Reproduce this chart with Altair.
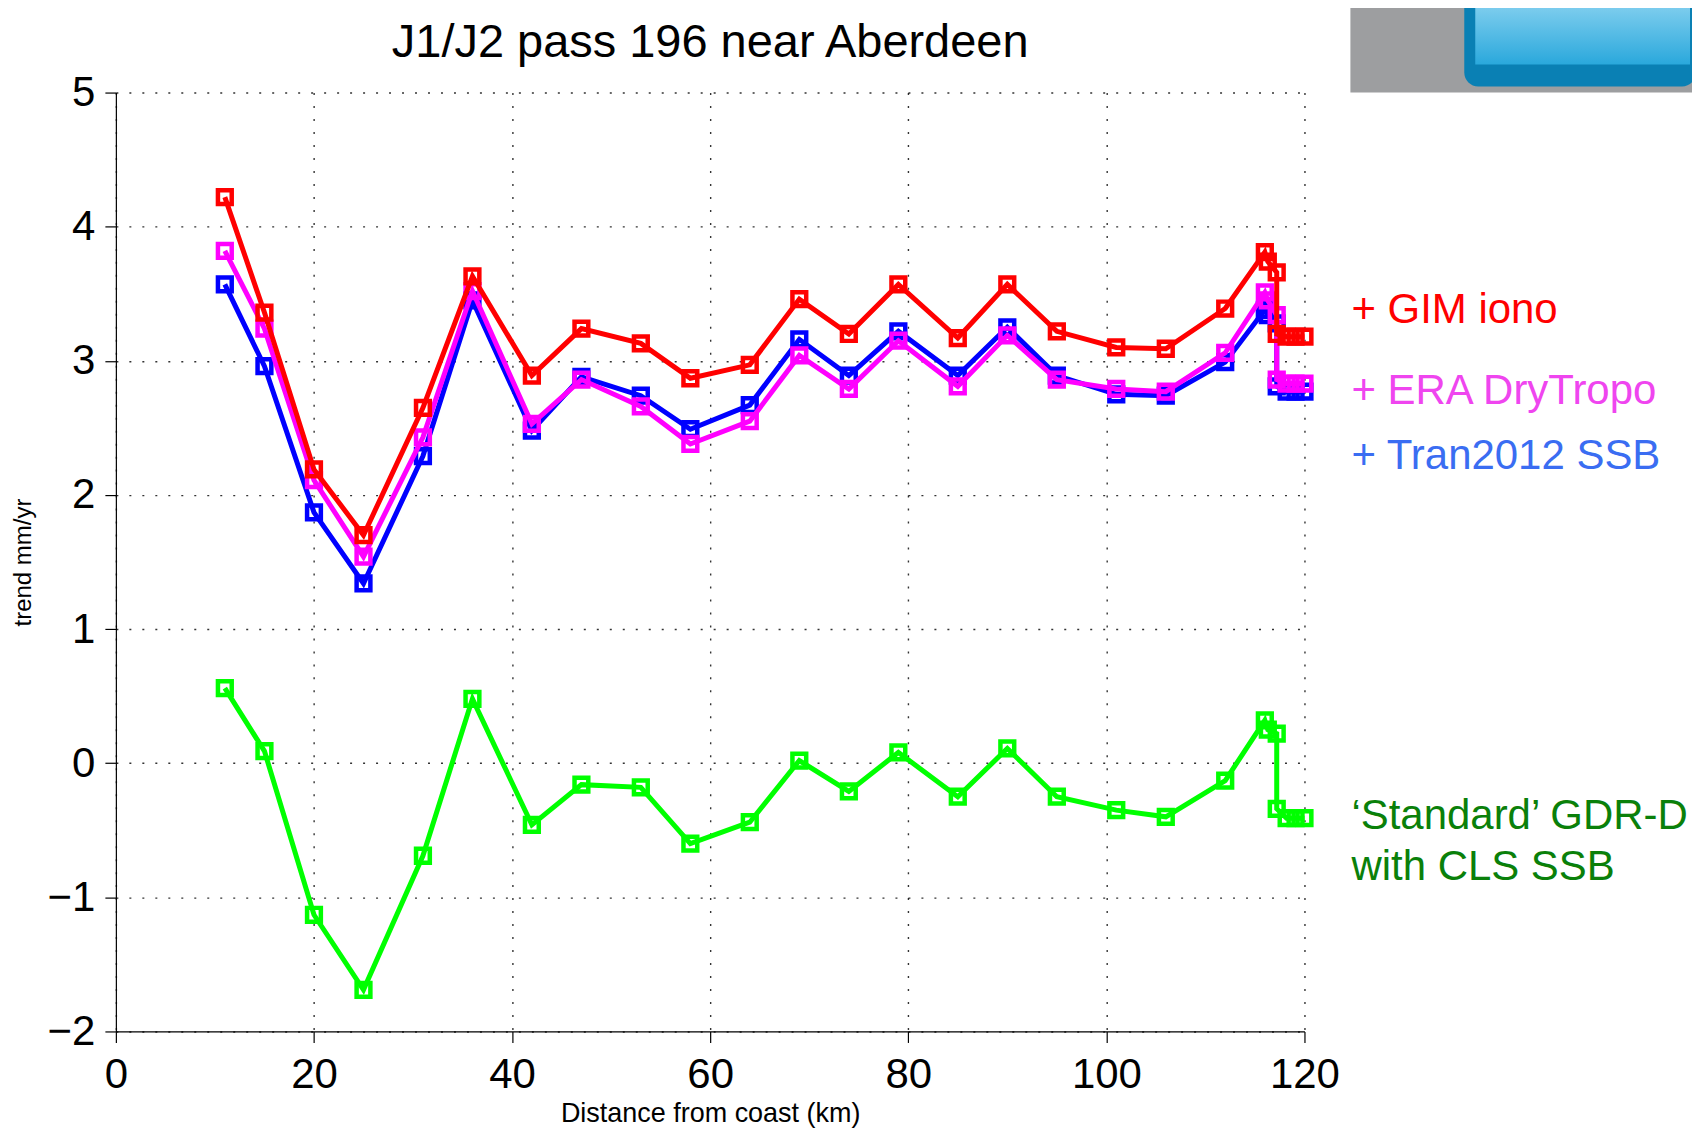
import altair as alt
import pandas as pd

# ---- data ----
dist_km = [11, 15, 20, 25, 31, 36, 42, 47, 53, 58, 64, 69, 74, 79, 85, 90, 95,
           101, 106, 112, 116.0, 116.3, 117.2, 117.2, 118.2, 119.1, 120.0]
gim_iono = [4.22, 3.36, 2.19, 1.70, 2.65, 3.63, 2.89, 3.24, 3.13, 2.87, 2.97, 3.46,
            3.20, 3.57, 3.17, 3.57, 3.22, 3.10, 3.09, 3.39, 3.81, 3.74, 3.66, 3.20,
            3.18, 3.18, 3.18]
era_drytropo = [3.82, 3.24, 2.11, 1.54, 2.43, 3.52, 2.53, 2.86, 2.66, 2.38, 2.55, 3.04,
                2.79, 3.15, 2.81, 3.19, 2.86, 2.79, 2.77, 3.06, 3.51, 3.45, 3.34, 2.86,
                2.83, 2.83, 2.83]
tran_ssb = [3.57, 2.96, 1.87, 1.34, 2.29, 3.45, 2.48, 2.88, 2.74, 2.49, 2.67, 3.16,
            2.89, 3.22, 2.89, 3.25, 2.89, 2.75, 2.74, 2.99, 3.38, 3.34, 3.28, 2.81,
            2.77, 2.77, 2.77]
gdr_standard = [0.56, 0.09, -1.13, -1.69, -0.69, 0.48, -0.46, -0.16, -0.18, -0.60, -0.44,
                0.02, -0.21, 0.08, -0.25, 0.11, -0.25, -0.35, -0.40, -0.13, 0.32, 0.25,
                0.22, -0.34, -0.41, -0.41, -0.41]

x_ticks = [0, 20, 40, 60, 80, 100, 120]
y_ticks = [-2, -1, 0, 1, 2, 3, 4, 5]

title_text = "J1/J2 pass 196 near Aberdeen"
x_title = "Distance from coast (km)"
y_title = "trend mm/yr"

W, H = 1190, 940
FONT = "Liberation Sans"

x_scale = alt.Scale(domain=[0, 120], nice=False, zero=False)
y_scale = alt.Scale(domain=[-2, 5], nice=False, zero=False)

common_axis = dict(
    grid=True, gridDash=[2, 11], gridColor="#000000", gridOpacity=0.8,
    gridWidth=1.4, domainColor="#000000", domainWidth=1.2, tickColor="#000000",
    tickSize=11, tickWidth=1.2, labelFont=FONT, labelFontSize=42,
    labelColor="#000000", labelFlush=False, format="d", titleFont=FONT,
    titleFontWeight="normal", titleColor="#000000",
)


def series_df(values):
    return pd.DataFrame({"i": range(len(values)), "x": dist_km, "y": values})


def series_layer(values, color, with_axes=False):
    if with_axes:
        xenc = alt.X("x:Q", scale=x_scale, axis=alt.Axis(
            values=x_ticks, title=x_title, labelPadding=12, titleFontSize=27,
            titleY=82, titleBaseline="middle", **common_axis))
        yenc = alt.Y("y:Q", scale=y_scale, axis=alt.Axis(
            values=y_ticks, title=y_title, labelPadding=10, titleFontSize=24,
            titleX=-92, titleY=H / 2, titleAngle=-90, titleBaseline="middle",
            titleAlign="center", **common_axis))
    else:
        xenc = alt.X("x:Q", scale=x_scale)
        yenc = alt.Y("y:Q", scale=y_scale)
    return alt.Chart(series_df(values)).mark_line(
        color=color, strokeWidth=5,
        point=alt.OverlayMarkDef(shape="square", filled=False, size=190,
                                 strokeWidth=4.5, color=color, fill="white",
                                 fillOpacity=0)
    ).encode(x=xenc, y=yenc, order="i:Q")


def label(text, color, x, y, size=42, align="left"):
    return alt.Chart(pd.DataFrame({"t": [text]})).mark_text(
        font=FONT, fontSize=size, color=color, align=align, baseline="middle"
    ).encode(text="t:N", x=alt.value(x), y=alt.value(y))


# decoration: grey banner with logo (top right)
banner = alt.Chart(pd.DataFrame({"a": [0]})).mark_rect(color="#9d9ea0").encode(
    x=alt.value(1236), x2=alt.value(1590), y=alt.value(-90), y2=alt.value(0))
logo = alt.Chart(pd.DataFrame({"a": [0]})).mark_rect(
    color="#0a80b4", cornerRadius=14).encode(
    x=alt.value(1350), x2=alt.value(1582), y=alt.value(-110), y2=alt.value(-6))
logo_in = alt.Chart(pd.DataFrame({"a": [0]})).mark_rect(
    fill=alt.Gradient(gradient="linear",
                      stops=[alt.GradientStop(color="#9fdcf5", offset=0),
                             alt.GradientStop(color="#2aa8dc", offset=1)],
                      x1=0, x2=0, y1=0, y2=1)).encode(
    x=alt.value(1361), x2=alt.value(1576), y=alt.value(-110), y2=alt.value(-28))

layers = [
    series_layer(gdr_standard, "#00ff00", with_axes=True),
    series_layer(tran_ssb, "#0000ff"),
    series_layer(era_drytropo, "#ff00ff"),
    series_layer(gim_iono, "#ff0000"),
    label(title_text, "#000000", W / 2, -50, size=47, align="center"),
    label("+ GIM iono", "#ff0000", 1237, 218),
    label("+ ERA DryTropo", "#ef45ef", 1237, 299),
    label("+ Tran2012 SSB", "#3a6df2", 1237, 364),
    label("\u2018Standard\u2019 GDR-D", "#0a800a", 1237, 724),
    label("with CLS SSB", "#0a800a", 1237, 775),
    banner, logo, logo_in,
]

chart = alt.layer(*layers).properties(
    width=W, height=H,
    autosize=alt.AutoSizeParams(type="none"),
    padding={"left": 108, "top": 84, "right": 388, "bottom": 96},
    background="white",
).configure_view(stroke=None)

chart.save("out.html", embed_options={"renderer": "svg", "actions": False})
